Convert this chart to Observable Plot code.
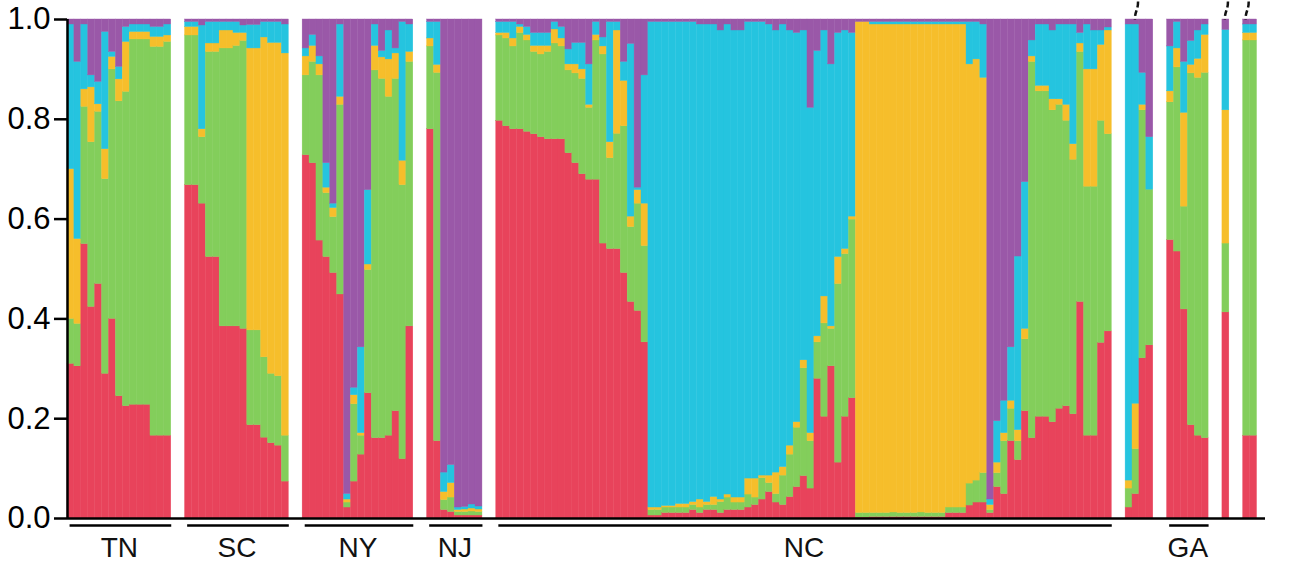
<!DOCTYPE html>
<html><head><meta charset="utf-8">
<script src="https://cdn.jsdelivr.net/npm/d3@7"></script>
<script src="https://cdn.jsdelivr.net/npm/@observablehq/plot@0.6"></script>
<style>body{margin:0;background:#fff} svg{display:block}</style>
</head><body><div id="chart"></div>
<script>
// Cluster names (stack order bottom -> top) and colours
const clusters = ["K1", "K2", "K3", "K4", "K5"];
const clusterColors = ["#E8435B", "#83CE5B", "#F6BE2B", "#25C4DF", "#9A58A8"];
const groupNames = ["TN", "SC", "NY", "NJ", "NC", "", "GA", "", ""];
const yTicks = [0, 0.2, 0.4, 0.6, 0.8, 1.0];

// Each individual: cumulative tops of K1, K2, K3, K4 (K5 fills up to 1)
const TN = [
  [.31,.40,.70,.99],[.305,.39,.56,.915],[.55,.825,.86,.99],[.424,.754,.864,.888],
  [.47,.815,.83,.875],[.29,.68,.74,.975],[.40,.90,.925,.935],[.245,.836,.88,.905],
  [.225,.855,.955,.985],[.228,.96,.975,.99],[.228,.96,.975,.99],[.228,.96,.975,.99],
  [.166,.945,.965,.985],[.166,.945,.965,.985],[.166,.955,.968,.99]
];
const SC = [
  [.668,.968,.985,.995],[.668,.968,.985,.995],[.631,.764,.78,.988],[.524,.935,.952,.995],
  [.524,.935,.952,.995],[.385,.942,.978,.995],[.385,.942,.978,.995],[.385,.947,.973,.995],
  [.38,.957,.973,.988],[.187,.377,.942,.989],[.187,.377,.942,.989],[.162,.323,.964,.995],
  [.151,.29,.953,.995],[.146,.285,.953,.995],[.074,.166,.932,.99]
];
const NY = [
  [.728,.888,.926,.942],[.712,.915,.947,.969],[.557,.888,.91,.926],[.524,.652,.663,.712],
  [.492,.604,.622,.631],[.449,.829,.845,.99],[.022,.032,.038,.049],[.074,.229,.247,.262],
  [.128,.166,.171,.343],[.251,.498,.509,.658],[.161,.898,.947,.99],[.161,.881,.924,.937],
  [.166,.845,.92,.978],[.215,.881,.932,.942],[.119,.668,.717,.995],[.385,.915,.935,.99]
];
const NJ = [
  [.78,.946,.962,.995],[.155,.893,.909,.995],[.017,.037,.053,.092],[.013,.042,.071,.107],
  [.006,.013,.017,.022],[.006,.013,.018,.023],[.006,.014,.02,.028],[.006,.013,.018,.024]
];
const NC = [
  [.797,.968,.973,.995],[.786,.962,.973,.995],[.78,.946,.962,.995],[.78,.973,.985,.99],
  [.775,.958,.969,.985],[.77,.935,.947,.973],[.764,.93,.947,.973],[.76,.935,.947,.973],
  [.76,.952,.98,.995],[.76,.946,.962,.985],[.732,.898,.91,.94],[.712,.892,.91,.953],
  [.69,.881,.9,.953],[.679,.823,.829,.91],[.679,.958,.969,.995],[.551,.93,.946,.964],
  [.54,.722,.754,.995],[.54,.771,.978,.995],[.492,.786,.877,.915],[.434,.584,.605,.951],
  [.416,.631,.658,.663],[.353,.546,.631,.888],
  [.006,.017,.022,.995],[.006,.017,.022,.995],[.011,.022,.025,.995],[.011,.022,.025,.995],
  [.011,.022,.029,.995],[.011,.022,.029,.995],[.017,.027,.033,.995],[.011,.022,.038,.99],
  [.017,.027,.033,.99],[.017,.027,.043,.99],[.011,.033,.038,.978],[.017,.042,.048,.99],
  [.017,.032,.042,.978],[.017,.032,.042,.978],[.022,.048,.08,.995],[.027,.042,.08,.995],
  [.038,.081,.086,.995],[.053,.071,.086,.99],[.032,.049,.092,.978],[.027,.086,.103,.99],
  [.043,.128,.146,.978],[.063,.182,.193,.973],[.085,.301,.317,.978],[.06,.155,.171,.823],
  [.28,.353,.365,.937],[.204,.391,.445,.978],[.305,.38,.385,.91],[.112,.47,.524,.973],
  [.204,.53,.54,.978],[.241,.599,.605,.973],
  [.002,.011,.995,.995],[.002,.011,.995,.995],[.003,.011,.99,.995],[.003,.011,.99,.995],
  [.003,.011,.99,.995],[.003,.012,.99,.995],[.003,.011,.99,.995],[.003,.011,.99,.995],
  [.003,.011,.99,.995],[.003,.012,.99,.995],[.003,.011,.99,.995],[.003,.011,.99,.995],
  [.003,.011,.99,.995],[.011,.022,.99,.995],[.011,.022,.99,.995],[.011,.022,.99,.995],
  [.026,.07,.91,.995],[.032,.076,.92,.995],[.032,.091,.883,.99],
  [.011,.017,.027,.038],[.063,.091,.112,.195],[.049,.155,.171,.236],[.155,.22,.236,.343],
  [.117,.155,.177,.525],[.215,.359,.38,.674],[.161,.915,.926,.958],[.204,.856,.867,.99],
  [.204,.856,.867,.99],[.193,.818,.84,.978],[.22,.829,.84,.99],[.225,.797,.829,.99],
  [.209,.719,.75,.99],[.434,.935,.952,.973],[.166,.665,.9,.99],[.166,.665,.9,.978],
  [.352,.797,.949,.978],[.375,.77,.978,.984]
];
const G6 = [[.022,.06,.076,.99],[.049,.139,.23,.99],[.321,.818,.829,.893],[.347,.659,.659,.764]];
const GA = [
  [.558,.834,.856,.946],[.535,.904,.942,.995],[.419,.625,.813,.915],
  [.187,.892,.909,.957],[.166,.883,.921,.978],[.161,.893,.969,.99]
];
const G8 = [[.413,.551,.818,.979]];
const G9 = [[.166,.958,.973,.99],[.166,.958,.973,.99]];
const groupData = [TN, SC, NY, NJ, NC, G6, GA, G8, G9];
// individuals flagged with a dashed mark above the bar: [group index, individual index]
const marked = [[5, 1], [7, 0], [8, 0]];

// ---- build tables ----
const GAP = 2;
const rects = [], groupsInfo = [], indPos = [];
let pos = 0;
groupData.forEach((g, gi) => {
  const start = pos;
  indPos.push([]);
  g.forEach((b) => {
    const tops = [...b, 1];
    let prev = 0;
    tops.forEach((t, k) => { rects.push({x1: pos, x2: pos + 1, y1: prev, y2: t, k: clusters[k]}); prev = t; });
    indPos[gi].push(pos + 0.5);
    pos += 1;
  });
  groupsInfo.push({name: groupNames[gi], x1: start, x2: pos, xm: (start + pos) / 2});
  pos += GAP;
});
const dataEnd = pos - GAP;
const W = 1311, ML = 67, MR = 46;
const N = dataEnd * (W - ML - MR) / (1256.5 - ML);
const labelled = groupsInfo.filter(d => d.name);
const markData = marked.map(([g, i]) => ({xc: indPos[g][i]}));

const chart = Plot.plot({
  width: W, height: 564,
  marginLeft: ML, marginRight: MR, marginTop: 19, marginBottom: 46,
  style: {fontFamily: "'Liberation Sans', Arial, Helvetica, sans-serif", background: "#fff", overflow: "visible"},
  x: {type: "linear", domain: [0, N], axis: null},
  y: {domain: [0, 1], axis: null},
  color: {domain: clusters, range: clusterColors},
  marks: [
    Plot.rect(rects, {x1: "x1", x2: "x2", y1: "y1", y2: "y2", fill: "k", stroke: "k", strokeWidth: 0.4}),
    Plot.ruleY([0], {strokeWidth: 2.5}),
    Plot.ruleX([0], {y1: 0, y2: 1, strokeWidth: 2.5}),
    Plot.axisY({ticks: yTicks, tickFormat: d3.format(".1f"), tickSize: 13, tickPadding: 4, fontSize: 31, strokeWidth: 2.5, label: null}),
    Plot.link(labelled, {x1: d => d.x1 + 0.3, x2: "x2", y1: 0, y2: 0, dy: 7, strokeWidth: 2.5}),
    Plot.text(labelled, {x: "xm", y: 0, dy: 30, text: "name", fontSize: 28, fill: "#111"}),
    Plot.link(markData, {x1: d => d.xc + 0.3, y1: 1.036, x2: d => d.xc - 0.15, y2: 1.0, curve: "bump-y", stroke: "#111", strokeWidth: 2.5, strokeDasharray: "6,3"})
  ]
});
document.getElementById("chart").append(chart);
</script>
</body></html>
